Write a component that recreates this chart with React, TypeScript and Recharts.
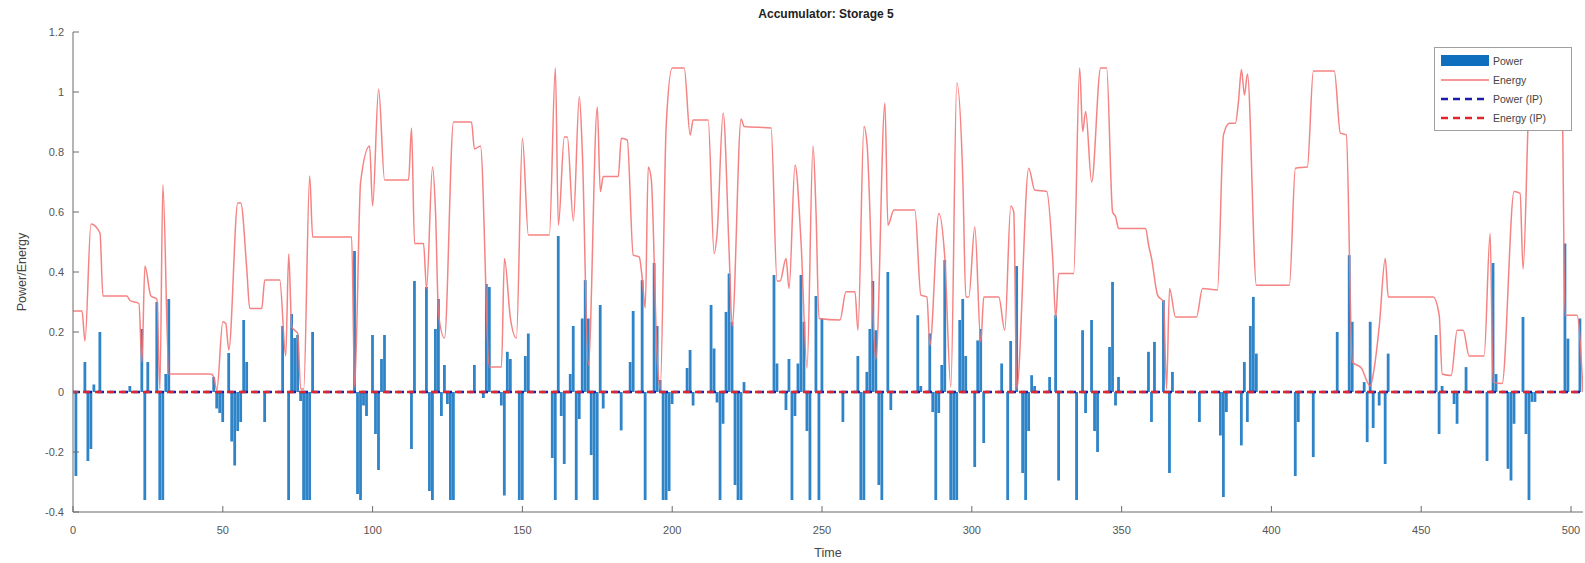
import React from "react"
import { ComposedChart, Bar, Line, XAxis, YAxis, Legend } from "recharts"

// Energy curve: vertices (time step, value)
const energyTimes = [
  0, 3, 4, 6, 9, 10, 18, 19, 22, 23, 24, 26, 28, 29, 30, 32, 46, 47, 48, 50, 51, 52, 55, 56, 58, 59,
  63, 64, 69, 71, 72, 73, 74, 75, 76, 77, 79, 80, 93, 94, 96, 99, 100, 102, 104, 112, 113, 114, 117, 118,
  120, 121, 122, 124, 127, 133, 134, 136, 139, 143, 144, 146, 148, 150, 152, 159, 161, 162, 164, 165, 167,
  169, 170, 172, 175, 176, 177, 182, 183, 185, 187, 189, 190, 191, 192, 193, 195, 196, 198, 200, 204, 206,
  207, 212, 214, 215, 217, 219, 220, 223, 224, 233, 235, 236, 238, 239, 241, 243, 245, 247, 248, 249, 256,
  258, 261, 262, 264, 265, 268, 271, 272, 274, 281, 283, 285, 286, 289, 291, 293, 295, 297, 298, 299, 301,
  303, 304, 309, 311, 313, 314, 315, 319, 321, 325, 327, 328, 329, 334, 336, 337, 338, 340, 343, 345, 347,
  348, 349, 358, 359, 360, 362, 364, 365, 366, 368, 375, 377, 382, 384, 386, 388, 389, 390, 391, 392, 395,
  406, 408, 412, 414, 421, 423, 425, 427, 430, 433, 434, 436, 438, 439, 454, 456, 457, 460, 462, 464, 466,
  471, 473, 474, 477, 481, 483, 484, 486, 487, 496, 497, 498, 502, 504,
]
const energyValues = [
  0.27, 0.27, 0.17, 0.56, 0.53, 0.32, 0.32, 0.305, 0.295, 0.1, 0.42, 0.32, 0.31, 0.01, 0.69, 0.06, 0.06, 0.05, 0.005, 0.234, 0.228, 0.14, 0.63, 0.63, 0.41, 0.278,
  0.278, 0.373, 0.373, 0.12, 0.46, 0.217, 0.206, 0.195, 0.01, 0.01, 0.72, 0.517, 0.517, 0.017, 0.7, 0.82, 0.62, 1.01, 0.707, 0.707, 0.88, 0.495, 0.495, 0.345,
  0.75, 0.6, 0.26, 0.18, 0.9, 0.9, 0.81, 0.82, 0.083, 0.083, 0.445, 0.245, 0.18, 0.846, 0.523, 0.523, 1.08, 0.556, 0.85, 0.85, 0.57,
  0.985, 0.8, 0.09, 0.95, 0.668, 0.718, 0.718, 0.846, 0.84, 0.456, 0.45, 0.378, 0.28, 0.75, 0.71, 0.11, 0.01, 0.89, 1.08, 1.08, 0.857,
  0.907, 0.907, 0.462, 0.53, 0.93, 0.467, 0.22, 0.91, 0.885, 0.88, 0.37, 0.37, 0.445, 0.345, 0.757, 0.5, 0.08, 0.82, 0.6, 0.245, 0.24,
  0.334, 0.334, 0.206, 0.885, 0.83, 0.11, 0.963, 0.556, 0.607, 0.607, 0.323, 0.317, 0.156, 0.595, 0.445, 0.017, 1.03, 0.71, 0.317, 0.317, 0.55,
  0.167, 0.317, 0.317, 0.206, 0.62, 0.6, 0.01, 0.746, 0.673, 0.668, 0.445, 0.245, 0.395, 0.395, 1.08, 0.868, 0.935, 0.7, 1.08, 1.08, 0.6,
  0.584, 0.545, 0.545, 0.49, 0.445, 0.323, 0.3, 0.01, 0.345, 0.25, 0.25, 0.345, 0.34, 0.857, 0.896, 0.896, 0.968, 1.075, 0.99, 1.06, 0.356,
  0.356, 0.746, 0.75, 1.07, 1.07, 0.863, 0.857, 0.1, 0.08, 0.02, 0.06, 0.22, 0.445, 0.317, 0.317, 0.256, 0.06, 0.055, 0.206, 0.206, 0.12,
  0.12, 0.528, 0.033, 0.028, 0.668, 0.662, 0.41, 0.98, 1.07, 1.07, 1.0, 0.256, 0.256, 0.0,
]

// Power bars: time steps with a non-zero value
const powerTimes = [
  1, 4, 5, 6, 7, 9, 19, 23, 24, 25, 28, 29, 30, 31, 32, 47, 48, 49, 50, 52, 53, 54, 55, 56, 57, 58,
  64, 70, 72, 73, 74, 75, 76, 77, 78, 79, 80, 94, 95, 96, 97, 98, 100, 101, 102, 103, 104, 113, 114,
  118, 119, 120, 121, 122, 123, 124, 125, 126, 127, 134, 137, 138, 139, 143, 144, 145, 146, 149, 150,
  151, 152, 160, 161, 162, 163, 164, 166, 167, 168, 169, 170, 171, 172, 173, 174, 175, 176, 177, 183,
  186, 187, 190, 191, 194, 195, 196, 197, 198, 199, 200, 205, 206, 207, 213, 214, 215, 216, 217, 218,
  219, 220, 221, 222, 223, 224, 234, 235, 238, 239, 240, 241, 242, 243, 244, 245, 246, 248, 249, 250,
  257, 262, 263, 264, 265, 266, 267, 268, 269, 270, 272, 273, 282, 283, 286, 287, 288, 289, 290, 291,
  293, 294, 295, 296, 297, 298, 301, 302, 303, 304, 310, 312, 313, 315, 317, 318, 319, 320, 321, 326,
  328, 329, 335, 337, 338, 340, 341, 342, 346, 347, 348, 349, 359, 360, 361, 364, 366, 367, 376, 383,
  384, 385, 390, 391, 392, 393, 394, 395, 408, 409, 414, 422, 426, 427, 431, 432, 433, 434, 436, 438,
  439, 455, 456, 457, 461, 462, 465, 472, 474, 475, 479, 480, 481, 484, 485, 486, 487, 488, 498, 499, 503,
]
const powerValues = [
  -0.28, 0.1, -0.23, -0.19, 0.025, 0.2, 0.02, 0.21, -0.36, 0.1, 0.3, -0.36, -0.36, 0.06, 0.31, 0.05, -0.055, -0.07, -0.1, 0.13, -0.165, -0.245, -0.13, -0.1, 0.24, 0.1,
  -0.1, 0.22, -0.36, 0.26, 0.18, 0.19, -0.03, -0.36, -0.36, -0.36, 0.2, 0.47, -0.34, -0.36, -0.045, -0.08, 0.19, -0.14, -0.26, 0.11, 0.19, -0.19, 0.37,
  0.35, -0.33, -0.36, 0.21, 0.31, -0.08, 0.09, -0.04, -0.36, -0.36, 0.09, -0.02, 0.36, 0.35, -0.045, -0.345, 0.134, 0.11, -0.36, -0.36,
  0.12, 0.195, -0.22, -0.36, 0.52, -0.08, -0.24, 0.06, 0.22, -0.36, -0.09, 0.245, 0.373, 0.245, -0.21, -0.36, -0.36, 0.29, -0.055, -0.128,
  0.1, 0.27, 0.373, -0.36, 0.43, 0.22, 0.04, -0.36, -0.36, -0.33, -0.04, 0.08, 0.14, -0.045, 0.29, 0.145, -0.035, -0.36, -0.106, 0.267,
  0.395, 0.234, -0.31, -0.36, -0.36, 0.033, 0.39, 0.095, -0.06, 0.11, -0.36, -0.08, 0.095, 0.39, 0.234, -0.13, -0.36, 0.32, -0.36, 0.245,
  -0.1, 0.12, -0.36, -0.36, 0.067, 0.21, 0.37, 0.206, -0.31, -0.36, 0.4, -0.06, 0.256, 0.02, 0.195, -0.067, -0.36, -0.07, 0.09, 0.44,
  -0.36, -0.36, -0.36, 0.24, 0.31, 0.12, -0.25, 0.172, 0.21, -0.17, 0.095, -0.36, 0.17, 0.42, -0.27, -0.36, -0.13, 0.056, 0.02, 0.05,
  0.256, -0.295, -0.36, 0.206, -0.07, 0.24, -0.13, -0.2, 0.15, 0.367, -0.045, 0.05, 0.134, -0.1, 0.167, 0.306, -0.27, 0.067, -0.1, -0.145,
  -0.35, -0.067, -0.178, 0.1, -0.1, 0.22, 0.317, 0.128, -0.28, -0.1, -0.217, 0.2, 0.456, 0.234, 0.033, -0.167, 0.234, -0.12, -0.045, -0.24,
  0.128, 0.19, -0.14, 0.02, -0.04, -0.106, 0.083, -0.23, 0.43, 0.06, -0.256, -0.295, -0.106, 0.25, -0.14, -0.36, -0.033, -0.033, 0.495, 0.178, 0.245,
]

// the two "IP" series sit on zero over the whole horizon
const ipTimes = [0, 504]
const ipPower = [0, 0]
const ipEnergy = [0, 0]

const xTicks = [0, 50, 100, 150, 200, 250, 300, 350, 400, 450, 500]
const yTicks = [-0.4, -0.2, 0, 0.2, 0.4, 0.6, 0.8, 1, 1.2]

const BLUE = "#2f84c8"
const RED = "#f47676"
const FONT = "'Liberation Sans', Arial, sans-serif"

function buildRows() {
  const byTime = new Map<number, any>()
  const row = (t: number) => {
    if (!byTime.has(t)) byTime.set(t, { t })
    return byTime.get(t)
  }
  powerTimes.forEach((t, i) => { row(t).power = powerValues[i] })
  energyTimes.forEach((t, i) => { row(t).energy = energyValues[i] })
  ipTimes.forEach((t, i) => {
    row(t).ipPower = ipPower[i]
    row(t).ipEnergy = ipEnergy[i]
  })
  return [...byTime.values()].sort((a, b) => a.t - b.t)
}

const rows = buildRows()

function fmtY(v: number) {
  return String(Math.round(v * 10) / 10)
}

const YTick = ({ x, y, payload }: any) => (
  <g>
    <line x1={x + 8} x2={x + 14} y1={y} y2={y} stroke="#6b6b6b" />
    <text x={x - 1} y={y} dy={4} textAnchor="end" fontSize={11} fill="#555" fontFamily={FONT}>
      {fmtY(payload.value)}
    </text>
  </g>
)

const XTick = ({ x, y, payload }: any) => (
  <g>
    <line x1={x} x2={x} y1={y - 8} y2={y - 14} stroke="#6b6b6b" />
    <text x={x} y={y} dy={14} textAnchor="middle" fontSize={11} fill="#555" fontFamily={FONT}>
      {payload.value}
    </text>
  </g>
)

const legendItems = [
  { name: "Power", kind: "bar", color: "#0f6fbf" },
  { name: "Energy", kind: "line", color: RED },
  { name: "Power (IP)", kind: "dash", color: "#1c1ca6" },
  { name: "Energy (IP)", kind: "dash", color: "#e0262c" },
]

const LegendBox = () => (
  <div
    style={{
      width: 138,
      height: 84,
      boxSizing: "border-box",
      border: "1px solid #a0a0a0",
      background: "#fff",
      padding: "3px 0",
      fontFamily: FONT,
      fontSize: 10.5,
      color: "#444",
    }}
  >
    {legendItems.map((it) => (
      <div key={it.name} style={{ display: "flex", alignItems: "center", height: 19 }}>
        <svg width={52} height={19} style={{ marginLeft: 4 }}>
          {it.kind === "bar" && <rect x={2} y={4} width={48} height={11} fill={it.color} />}
          {it.kind === "line" && <line x1={2} x2={50} y1={10} y2={10} stroke={it.color} strokeWidth={1.5} />}
          {it.kind === "dash" && (
            <line x1={2} x2={50} y1={10} y2={10} stroke={it.color} strokeWidth={2.5} strokeDasharray="7 5" />
          )}
        </svg>
        <span style={{ marginLeft: 2 }}>{it.name}</span>
      </div>
    ))}
  </div>
)

export default function App() {
  return (
    <div style={{ position: "absolute", left: 0, top: 0, width: 1585, height: 563, background: "#fff" }}>
      <ComposedChart
        width={1585}
        height={563}
        data={rows}
        margin={{ top: 32, right: 2, left: 13, bottom: 21 }}
      >
        <XAxis
          dataKey="t"
          type="number"
          domain={[0, 504]}
          ticks={xTicks}
          allowDataOverflow
          tickSize={0}
          tickMargin={8}
          tick={<XTick />}
          height={30}
          stroke="#6b6b6b"
        />
        <YAxis
          type="number"
          domain={[-0.4, 1.2]}
          ticks={yTicks}
          allowDataOverflow
          tickSize={0}
          tickMargin={8}
          tick={<YTick />}
          width={60}
          stroke="#6b6b6b"
        />
        <Legend
          layout="vertical"
          align="center"
          verticalAlign="middle"
          content={<LegendBox />}
          wrapperStyle={{ left: 1434, top: 47, width: 138, height: 84 }}
        />
        <Bar dataKey="power" name="Power" fill={BLUE} barSize={2.8} isAnimationActive={false} />
        <Line
          dataKey="energy"
          name="Energy"
          type="monotoneX"
          stroke={RED}
          strokeOpacity={0.9}
          strokeWidth={1.5}
          dot={false}
          connectNulls
          isAnimationActive={false}
        />
        <Line
          dataKey="ipPower"
          name="Power (IP)"
          type="linear"
          stroke="#1c1ca6"
          strokeWidth={2.5}
          strokeDasharray="7 5"
          dot={false}
          connectNulls
          isAnimationActive={false}
        />
        <Line
          dataKey="ipEnergy"
          name="Energy (IP)"
          type="linear"
          stroke="#e0262c"
          strokeWidth={2.5}
          strokeDasharray="7 5"
          strokeDashoffset={2}
          dot={false}
          connectNulls
          isAnimationActive={false}
        />
      </ComposedChart>
      <div
        style={{
          position: "absolute",
          left: 826,
          top: 14,
          transform: "translate(-50%, -50%)",
          fontFamily: FONT,
          fontWeight: "bold",
          fontSize: 12,
          color: "#222",
          whiteSpace: "nowrap",
        }}
      >
        Accumulator: Storage 5
      </div>
      <div
        style={{
          position: "absolute",
          left: 828,
          top: 553,
          transform: "translate(-50%, -50%)",
          fontFamily: FONT,
          fontSize: 12.5,
          color: "#444",
          whiteSpace: "nowrap",
        }}
      >
        Time
      </div>
      <div
        style={{
          position: "absolute",
          left: 22,
          top: 272,
          transform: "translate(-50%, -50%) rotate(-90deg)",
          fontFamily: FONT,
          fontSize: 12.5,
          color: "#444",
          whiteSpace: "nowrap",
        }}
      >
        Power/Energy
      </div>
    </div>
  )
}
